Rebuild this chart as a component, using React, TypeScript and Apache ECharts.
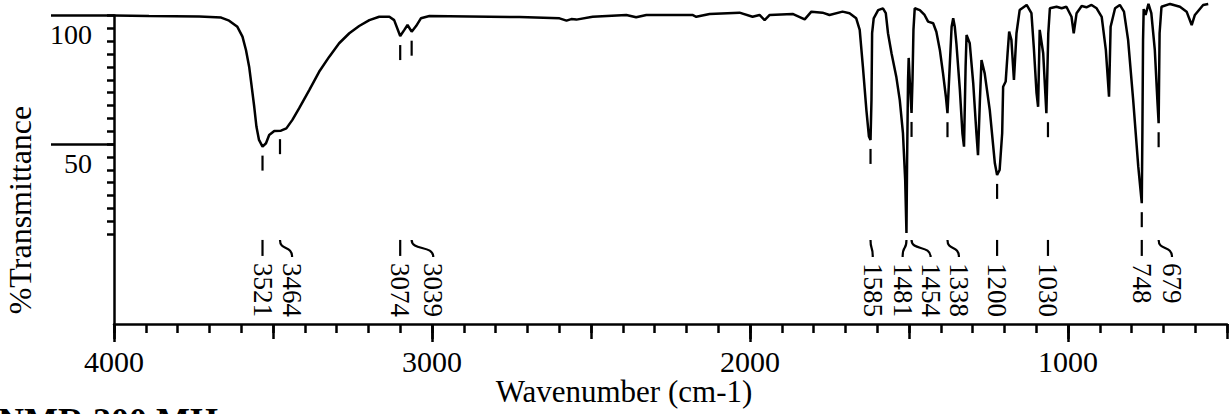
import React, { useEffect, useRef } from "react";
import * as echarts from "echarts";

// ---- Spectrum (wavenumber in cm-1, % transmittance) ----
const wavenumbers = [
  4000, 3890, 3732, 3663, 3638, 3612, 3596, 3585, 3575, 3567,
  3559, 3552, 3544, 3533, 3522, 3512, 3496, 3475, 3458, 3439,
  3418, 3386, 3355, 3323, 3292, 3260, 3229, 3197, 3166, 3134,
  3119, 3100, 3087, 3077, 3064, 3050, 3035, 3008, 2883, 2725,
  2599, 2577, 2562, 2546, 2495, 2389, 2358, 2326, 2181, 2169,
  2127, 2033, 1992, 1970, 1954, 1938, 1866, 1828, 1807, 1772,
  1750, 1709, 1687, 1666, 1655, 1645, 1634, 1626, 1621, 1618,
  1616, 1611, 1597, 1582, 1573, 1566, 1555, 1540, 1529, 1519,
  1512, 1508, 1506, 1503, 1501, 1497, 1492, 1489, 1486, 1482,
  1466, 1451, 1440, 1424, 1414, 1403, 1393, 1384, 1379, 1372,
  1366, 1361, 1356, 1351, 1340, 1332, 1327, 1322, 1319, 1309,
  1298, 1288, 1283, 1277, 1272, 1262, 1246, 1230, 1223, 1215,
  1207, 1204, 1196, 1190, 1185, 1178, 1170, 1162, 1152, 1130,
  1115, 1107, 1099, 1094, 1089, 1078, 1068, 1062, 1057, 1036,
  1020, 1005, 989, 982, 973, 957, 942, 926, 910, 894,
  881, 871, 866, 852, 837, 824, 811, 795, 779, 768,
  766, 764, 762, 756, 747, 738, 727, 719, 715, 712,
  706, 679, 648, 627, 611, 601, 575, 559,
];
const transmittance = [
  100.0, 99.8, 99.6, 99.2, 98.0, 95.6, 91.8, 86.6, 80.1, 72.3,
  64.5, 56.7, 51.6, 49.0, 50.3, 53.5, 55.1, 55.2, 56.1, 59.4,
  63.9, 71.0, 78.1, 84.0, 89.2, 93.1, 95.9, 98.2, 99.5, 99.5,
  98.2, 92.0, 94.4, 96.3, 93.7, 95.9, 98.9, 99.8, 99.6, 99.4,
  98.9, 98.0, 98.6, 98.4, 99.5, 100.2, 99.3, 100.2, 100.2, 99.5,
  100.6, 101.1, 99.5, 100.2, 98.2, 100.2, 100.6, 98.5, 101.5, 101.1,
  100.2, 101.5, 100.9, 98.9, 94.4, 80.1, 63.2, 52.9, 51.6, 67.1,
  93.1, 98.9, 102.1, 102.8, 100.9, 93.1, 85.3, 76.2, 67.1, 54.2,
  36.0, 15.4, 43.8, 74.9, 83.5, 73.0, 62.1, 74.9, 94.4, 102.8,
  102.1, 100.2, 97.6, 97.0, 93.7, 86.6, 77.5, 68.4, 62.0, 80.1,
  95.6, 98.9, 95.6, 89.2, 71.0, 54.2, 49.0, 80.1, 92.4, 89.2,
  73.6, 54.2, 45.7, 67.1, 82.7, 77.5, 63.2, 42.5, 38.0, 39.9,
  54.2, 72.3, 74.3, 85.3, 93.7, 90.5, 74.9, 93.1, 102.1, 104.1,
  100.9, 86.6, 69.9, 64.5, 94.4, 85.3, 62.0, 93.1, 102.8, 103.4,
  102.8, 103.4, 99.5, 93.1, 100.9, 103.7, 103.2, 104.1, 102.8, 99.5,
  86.6, 68.4, 95.6, 102.8, 104.1, 101.5, 90.5, 67.1, 41.2, 27.0,
  55.5, 90.5, 102.5, 100.2, 104.5, 100.9, 86.6, 67.1, 58.1, 93.1,
  103.4, 104.5, 103.4, 101.5, 96.3, 100.2, 104.1, 104.5,
];

// ---- Peak annotations ----
const peakLabels = ["3521", "3464", "3074", "3039", "1585", "1481", "1454", "1338", "1200", "1030", "748", "679"];
const peakWavenumbers = [3533, 3478, 3100, 3064, 1621, 1508, 1492, 1379, 1223, 1063, 768, 715];
const peakTransmittance = [49.0, 55.4, 92.0, 93.7, 51.6, 15.4, 62.1, 62.0, 38.0, 62.0, 27.0, 58.1];
const labelWavenumbers = [3533, 3440, 3100, 2996, 1614, 1520, 1432, 1343, 1223, 1063, 768, 673];
const peakHasTick = [true, true, true, true, true, false, true, true, true, true, true, true];

// ---- Axis ticks / labels ----
const xMinorTicks = Array.from({ length: 36 }, (_, i) => 500 + i * 100);
const xMidTicks = [500, 1000, 1500, 2000, 2500, 3000, 3500, 4000];
const xLabels = [1000, 2000, 3000, 4000];
const yTicks = [15, 20, 25, 30, 35, 40, 45, 50, 55, 60, 65, 70, 75, 80, 85, 90, 95, 100];
const yLabels = [50, 100];
const yLongTicks = [50, 100];

const FONT = '"Liberation Serif", "Times New Roman", serif';
const LABEL_ROW_T = 12.7;

export default function App() {
  const ref = useRef<HTMLDivElement>(null);

  useEffect(() => {
    if (!ref.current) return;
    const chart = echarts.init(ref.current, undefined, { renderer: "svg" });
    const black = { color: "#000", width: 2.5 };
    const baseX: any = {
      type: "value",
      min: 500,
      max: 4000,
      inverse: true,
      position: "bottom",
      splitLine: { show: false },
      axisLine: { show: false, onZero: false },
      axisLabel: { show: false },
      axisTick: { show: false },
    };
    const baseY: any = {
      type: "value",
      min: -20,
      max: 100,
      position: "left",
      splitLine: { show: false },
      axisLine: { show: false, onZero: false },
      axisLabel: { show: false },
      axisTick: { show: false },
    };
    const lineData = wavenumbers.map((w, i) => [w, transmittance[i]]);
    const annData = peakLabels.map((_, i) => [peakWavenumbers[i], peakTransmittance[i], labelWavenumbers[i]]);

    chart.setOption({
      animation: false,
      backgroundColor: "#fff",
      grid: { left: 114, right: 3, top: 15.5, bottom: 90, containLabel: false },
      xAxis: [
        {
          ...baseX,
          axisLine: { show: true, onZero: false, lineStyle: black },
          axisTick: { show: true, customValues: xMinorTicks, length: 9, lineStyle: black },
          axisLabel: {
            show: true,
            customValues: xLabels,
            showMinLabel: true,
            showMaxLabel: true,
            formatter: (v: number) => String(v),
            fontSize: 30,
            fontFamily: FONT,
            color: "#000",
            margin: 22,
          },
        },
        { ...baseX, axisTick: { show: true, customValues: xMidTicks, length: 15, lineStyle: black } },
        { ...baseX, axisTick: { show: true, customValues: xLabels, length: 18, lineStyle: black } },
      ],
      yAxis: [
        {
          ...baseY,
          axisLine: { show: true, onZero: false, lineStyle: black },
          axisTick: { show: true, customValues: yTicks, length: 7, lineStyle: black },
          axisLabel: {
            show: true,
            customValues: yLabels,
            showMinLabel: true,
            showMaxLabel: true,
            formatter: (v: number) => String(v),
            fontSize: 28,
            fontFamily: FONT,
            color: "#000",
            margin: 22,
            verticalAlign: "top",
            padding: [5, 0, 0, 0],
          },
        },
        { ...baseY, axisTick: { show: true, customValues: yLongTicks, length: 63, lineStyle: black } },
      ],
      series: [
        {
          type: "line",
          xAxisIndex: 0,
          yAxisIndex: 0,
          data: lineData,
          symbol: "none",
          showSymbol: false,
          clip: false,
          silent: true,
          lineStyle: { color: "#000", width: 2.5 },
        },
        {
          type: "custom",
          coordinateSystem: "cartesian2d",
          xAxisIndex: 0,
          yAxisIndex: 0,
          clip: false,
          silent: true,
          data: annData,
          renderItem: (params: any, api: any) => {
            const i = params.dataIndex;
            const p = api.coord([api.value(0), api.value(1)]);
            const row = api.coord([api.value(2), LABEL_ROW_T]);
            const lx = row[0];
            const ry = row[1];
            const stroke = { stroke: "#000", lineWidth: 2.2, fill: "none" };
            const children: any[] = [];
            if (peakHasTick[i]) {
              children.push({ type: "line", shape: { x1: p[0], y1: p[1] + 9, x2: p[0], y2: p[1] + 24 }, style: stroke });
            }
            if (Math.abs(lx - p[0]) < 1.5) {
              children.push({ type: "line", shape: { x1: lx, y1: ry, x2: lx, y2: ry + 16 }, style: stroke });
            } else {
              children.push({
                type: "bezierCurve",
                shape: { x1: p[0], y1: ry, cpx1: p[0], cpy1: ry + 11, cpx2: lx, cpy2: ry + 5, x2: lx, y2: ry + 17 },
                style: stroke,
              });
            }
            children.push({
              type: "text",
              x: lx,
              y: ry + 23,
              rotation: -Math.PI / 2,
              style: {
                text: peakLabels[i],
                fill: "#000",
                font: `27px ${FONT}`,
                align: "left",
                verticalAlign: "middle",
              },
            });
            return { type: "group", children };
          },
        },
      ],
      graphic: [
        {
          type: "text",
          x: 20,
          y: 210,
          rotation: Math.PI / 2,
          style: { text: "%Transmittance", fill: "#000", font: `32px ${FONT}`, align: "center", verticalAlign: "middle" },
        },
        {
          type: "text",
          x: 624,
          y: 391,
          style: { text: "Wavenumber (cm-1)", fill: "#000", font: `31px ${FONT}`, align: "center", verticalAlign: "middle" },
        },
        {
          type: "text",
          x: -2,
          y: 421,
          style: { text: "NMR 200 MHz", fill: "#000", font: `bold 36px ${FONT}`, align: "left", verticalAlign: "middle" },
        },
      ],
    });
    return () => chart.dispose();
  }, []);

  return (
    <div
      ref={ref}
      style={{ position: "fixed", left: 0, top: 0, width: 1230, height: 414, background: "#fff" }}
    />
  );
}
